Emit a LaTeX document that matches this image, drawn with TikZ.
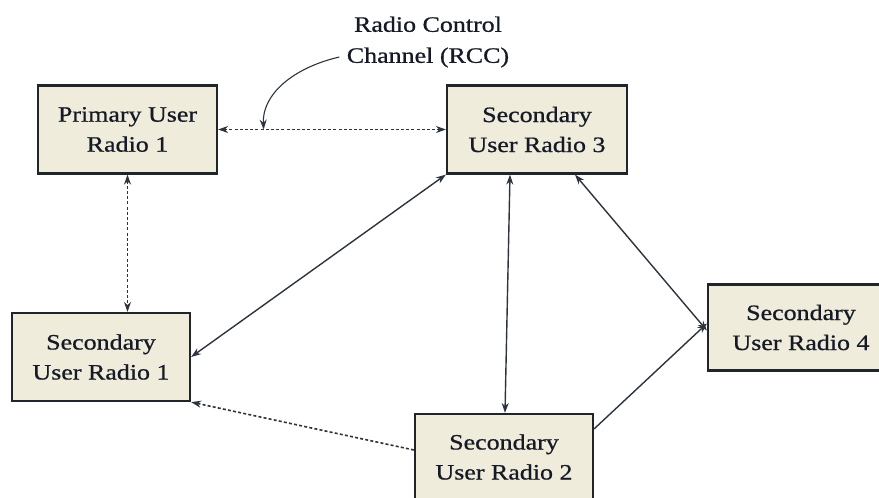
\documentclass[tikz,border=0pt]{standalone}
\usepackage{fontspec}
\setmainfont{Liberation Serif}[FakeStretch=1.18, FakeBold=0.7]
\usetikzlibrary{arrows.meta,calc}
\definecolor{boxfill}{HTML}{EFECDC}
\definecolor{boxline}{HTML}{20242B}
\definecolor{linkcol}{HTML}{2E343E}
\definecolor{txtcol}{HTML}{151A26}
\tikzset{
  radio/.style={draw=boxline, line width=2.2pt, fill=boxfill, align=center,
    text=txtcol, font=\fontsize{22}{30}\selectfont, inner sep=0pt},
  tip/.tip={Stealth[length=10pt,width=7pt]},
  link/.style={draw=linkcol, line width=1.4pt, -tip},
  twoway/.style={link, tip-tip},
  dotlink/.style={line width=1.6pt, dash pattern=on 3pt off 2.2pt},
}
\begin{document}
\begin{tikzpicture}[x=1pt,y=-1pt]
  \clip (0,0) rectangle (879,498);
  \fill[white] (0,0) rectangle (879,498);

  % radios
  \node[radio, minimum width=179pt, minimum height=88pt] (pu1) at (127.5,129.5) {Primary User\\Radio 1};
  \node[radio, minimum width=180pt, minimum height=88pt] (su3) at (537,129.5) {Secondary\\User Radio 3};
  \node[radio, minimum width=178pt, minimum height=88pt] (su1) at (101,357) {Secondary\\User Radio 1};
  \node[radio, minimum width=186pt, minimum height=86pt] (su4) at (801,327.5) {Secondary\\User Radio 4};
  \node[radio, minimum width=178pt, minimum height=86pt] (su2) at (504,457) {Secondary\\User Radio 2};

  % control channel label
  \node[align=center, text=txtcol, font=\fontsize{22}{31}\selectfont] (lbl) at (428,42) {Radio Control\\Channel (RCC)};

  % control channel between primary and secondary 3
  \draw[twoway, dotlink] (pu1.east) -- (su3.west);
  \coordinate (rcc) at ($(pu1.east)!0.2!(su3.west)$);
  \coordinate (lblfoot) at ([shift={(-4pt,-15pt)}]lbl.west);
  \draw[link, line width=1.1pt] (lblfoot) .. controls (292,68) and (262,95) .. (rcc);

  % links
  \draw[twoway, dotlink] (pu1.south) -- (su1.north -| pu1.south);
  \draw[twoway] (su3.south west) -- (su1.east);
  \draw[twoway] ([xshift=-27pt]su3.south) -- ([xshift=1pt]su2.north);
  \draw[twoway] ([xshift=38pt]su3.south) -- ([yshift=-3pt]su4.west);
  \draw[link] ([yshift=-16pt]su2.north east) -- ([yshift=4pt]su4.west);
  \draw[link, dotlink] ([yshift=7pt]su2.west) -- (su1.south east);
\end{tikzpicture}
\end{document}
